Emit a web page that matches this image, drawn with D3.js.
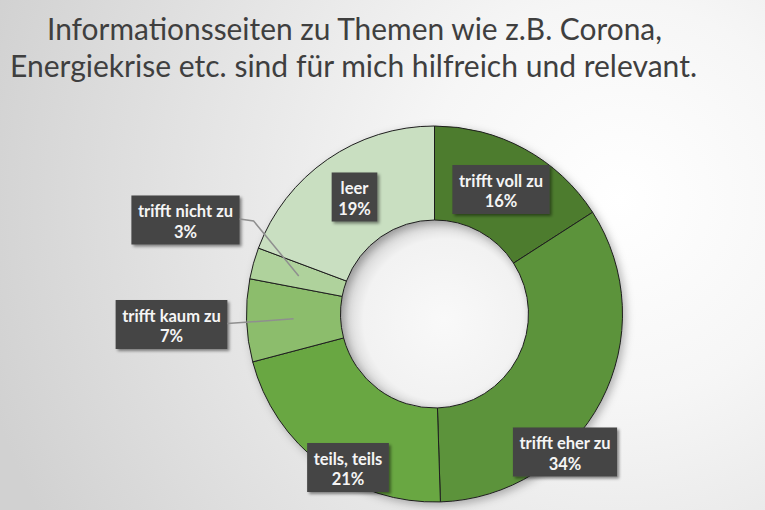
<!DOCTYPE html>
<html>
<head>
<meta charset="utf-8">
<script src="https://cdn.jsdelivr.net/npm/d3@7"></script>
<style>
html,body{margin:0;padding:0;background:#fff;}
svg{display:block;}
</style>
</head>
<body>
<script>
// ---- data ----
const titleLines = ["Informationsseiten zu Themen wie z.B. Corona,", "Energiekrise etc. sind für mich hilfreich und relevant."];
const categories = ["trifft voll zu", "trifft eher zu", "teils, teils", "trifft kaum zu", "trifft nicht zu", "leer"];
const values = [15.9, 33.6, 21.4, 7.1, 2.7, 19.3];
const colors = ["#4d7c2d", "#5c933a", "#69a743", "#8cbd6c", "#afd29c", "#c9dfc1"];

// ---- layout ----
const W = 765, H = 510;
const cx = 434.5, cy = 314, rOuter = 188, rInner = 94;
const labelCenters = {
  "trifft voll zu": [501, 189.5],
  "trifft eher zu": [565, 452],
  "teils, teils": [348, 467.5],
  "trifft kaum zu": [171.5, 324.5],
  "trifft nicht zu": [185.5, 220],
  "leer": [354.5, 197]
};
const leaders = {"trifft kaum zu": "straight", "trifft nicht zu": "bent"};

const svg = d3.select("body").append("svg").attr("width", W).attr("height", H);
const defs = svg.append("defs");

const bg = defs.append("radialGradient").attr("id", "bg")
  .attr("gradientUnits", "userSpaceOnUse").attr("cx", 620).attr("cy", 200).attr("r", 660);
bg.append("stop").attr("offset", 0).attr("stop-color", "#ffffff");
bg.append("stop").attr("offset", 0.3).attr("stop-color", "#f6f6f6");
bg.append("stop").attr("offset", 1).attr("stop-color", "#d1d1d1");

const hole = defs.append("radialGradient").attr("id", "hole")
  .attr("gradientUnits", "userSpaceOnUse").attr("cx", 10).attr("cy", 6).attr("r", rInner + 10);
hole.append("stop").attr("offset", 0).attr("stop-color", "#f9f9f9");
hole.append("stop").attr("offset", 0.78).attr("stop-color", "#f2f2f2");
hole.append("stop").attr("offset", 1).attr("stop-color", "#d0d0d0");

const ringShadow = defs.append("filter").attr("id", "ringShadow")
  .attr("x", "-20%").attr("y", "-20%").attr("width", "140%").attr("height", "140%");
ringShadow.append("feDropShadow").attr("dx", 3).attr("dy", 3).attr("stdDeviation", 4)
  .attr("flood-color", "#000").attr("flood-opacity", 0.28);

const boxShadow = defs.append("filter").attr("id", "boxShadow")
  .attr("x", "-20%").attr("y", "-30%").attr("width", "140%").attr("height", "160%");
boxShadow.append("feDropShadow").attr("dx", 2).attr("dy", 2).attr("stdDeviation", 1.8)
  .attr("flood-color", "#000").attr("flood-opacity", 0.45);

svg.append("rect").attr("width", W).attr("height", H).attr("fill", "url(#bg)");

// title
const title = svg.append("text").attr("text-anchor", "middle")
  .attr("font-family", "Lato, 'Open Sans', sans-serif").attr("font-size", 30).attr("fill", "#3f3f3f");
const titleY = [40, 77], titleW = [615, 687], titleX = [354.5, 353.5];
titleLines.forEach((t, i) => {
  title.append("tspan").attr("x", titleX[i]).attr("y", titleY[i])
    .attr("textLength", titleW[i]).attr("lengthAdjust", "spacingAndGlyphs").text(t);
});

// donut
const data = categories.map((c, i) => ({cat: c, value: values[i], color: colors[i]}));
const pie = d3.pie().value(d => d.value).sort(null);
const arcs = pie(data);
const arc = d3.arc().innerRadius(rInner).outerRadius(rOuter);
const midArc = d3.arc().innerRadius(141).outerRadius(141);

const g = svg.append("g").attr("transform", `translate(${cx},${cy})`);
g.append("circle").attr("r", rInner).attr("fill", "url(#hole)");
const ring = g.append("g").attr("filter", "url(#ringShadow)");
ring.selectAll("path").data(arcs).join("path")
  .attr("d", arc).attr("fill", d => d.data.color)
  .attr("stroke", "#1e1e1e").attr("stroke-width", 1);

// labels
const total = d3.sum(values);
const pct = v => Math.round(v / total * 100) + "%";
const lbl = svg.append("g").attr("font-family", "Lato, 'Open Sans', sans-serif")
  .attr("font-weight", "bold").attr("font-size", 16.5);

arcs.forEach(a => {
  const [bx, by] = labelCenters[a.data.cat];
  const grp = lbl.append("g");
  const rect = grp.append("rect").attr("fill", "#444444").attr("filter", "url(#boxShadow)");
  const t1 = grp.append("text").attr("x", bx).attr("y", by - 3).attr("text-anchor", "middle")
    .attr("fill", "#f5f5f5").text(a.data.cat);
  const t2 = grp.append("text").attr("x", bx).attr("y", by + 17.5).attr("text-anchor", "middle")
    .attr("fill", "#f5f5f5").text(pct(a.data.value));
  const tw = Math.max(t1.node().getComputedTextLength(), t2.node().getComputedTextLength());
  const bw = tw + 13, bh = 49;
  rect.attr("x", bx - bw / 2).attr("y", by - bh / 2).attr("width", bw).attr("height", bh);

  const kind = leaders[a.data.cat];
  if (kind) {
    const c = midArc.centroid(a);
    const ex = cx + c[0], ey = cy + c[1];
    const sx = bx + bw / 2;
    const pts = kind === "bent"
      ? [[sx, by - 1], [sx + 14, by + 1], [ex, ey]]
      : [[sx, by - 1], [ex, ey]];
    svg.append("path").attr("d", d3.line()(pts)).attr("fill", "none")
      .attr("stroke", "#8f8f8f").attr("stroke-width", 1.5);
  }
});
</script>
</body>
</html>
